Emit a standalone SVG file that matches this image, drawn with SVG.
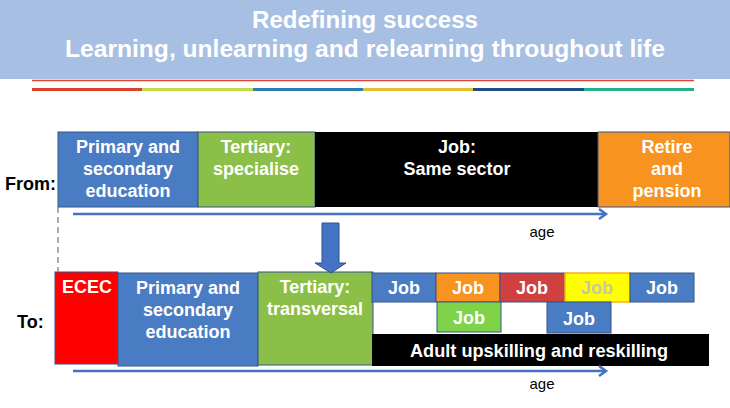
<svg xmlns="http://www.w3.org/2000/svg" width="730" height="408" viewBox="0 0 730 408">
<defs>
<style>
.t{font-family:"Liberation Sans",Arial,sans-serif;font-weight:bold;fill:#fff;text-anchor:middle}
.b{font-size:18px}
.j{font-size:18px}
.lab{font-family:"Liberation Sans",Arial,sans-serif;font-weight:bold;font-size:18px;fill:#000}
.age{font-family:"Liberation Sans",Arial,sans-serif;font-size:15px;fill:#000;text-anchor:middle}
.bx{stroke:#35558a;stroke-width:1}
.ax{stroke:#4472c4;stroke-width:2.5;fill:none}
</style>
<marker id="ah" markerWidth="12" markerHeight="12" refX="9" refY="6" orient="auto" markerUnits="userSpaceOnUse">
<path d="M2,1 L9,6 L2,11" fill="none" stroke="#4472c4" stroke-width="2.5"/>
</marker>
</defs>
<rect x="0" y="0" width="730" height="79" fill="#a7bfe3"/>
<text class="t" x="365" y="28" font-size="23" textLength="226" lengthAdjust="spacingAndGlyphs">Redefining success</text>
<text class="t" x="365" y="57" font-size="23" textLength="600" lengthAdjust="spacingAndGlyphs">Learning, unlearning and relearning throughout life</text>
<line x1="32" y1="80.5" x2="694" y2="80.5" stroke="#e8402a" stroke-width="1.5"/>
<g stroke-width="3">
<line x1="32" y1="89.5" x2="142" y2="89.5" stroke="#d9412a"/>
<line x1="142" y1="89.5" x2="253" y2="89.5" stroke="#c3da4a"/>
<line x1="253" y1="89.5" x2="363" y2="89.5" stroke="#2a7fb0"/>
<line x1="363" y1="89.5" x2="473" y2="89.5" stroke="#e8be2e"/>
<line x1="473" y1="89.5" x2="584" y2="89.5" stroke="#1f4e7e"/>
<line x1="584" y1="89.5" x2="694" y2="89.5" stroke="#22b08a"/>
</g>

<text class="lab" x="5" y="190">From:</text>
<text class="lab" x="17" y="328">To:</text>

<g id="from-primary"><rect class="bx" x="58" y="132" width="140" height="75" fill="#4a7cc4"/>
<text class="t b" x="128" y="153">Primary and</text><text class="t b" x="128" y="175">secondary</text><text class="t b" x="128" y="197">education</text></g>
<g id="from-tertiary"><rect class="bx" x="198" y="132" width="117" height="75" fill="#8cbf48"/>
<text class="t b" x="256" y="153">Tertiary:</text><text class="t b" x="256" y="175">specialise</text></g>
<g id="from-job"><rect x="315" y="132" width="283" height="75" fill="#000"/>
<text class="t b" x="457" y="153">Job:</text><text class="t b" x="457" y="175">Same sector</text></g>
<g id="from-retire"><rect class="bx" x="598" y="132" width="132" height="75" fill="#f7931e"/>
<text class="t b" x="667" y="153">Retire</text><text class="t b" x="667" y="175">and</text><text class="t b" x="667" y="197">pension</text></g>

<g id="to-ecec"><rect class="bx" x="55" y="272" width="63" height="92" fill="#ff0000"/>
<text class="t b" x="87" y="293">ECEC</text></g>
<g id="to-primary"><rect class="bx" x="118" y="273" width="140" height="93" fill="#4a7cc4"/>
<text class="t b" x="188" y="294">Primary and</text><text class="t b" x="188" y="316">secondary</text><text class="t b" x="188" y="338">education</text></g>
<g id="to-tertiary"><rect class="bx" x="258" y="272" width="115" height="93" fill="#8cbf48"/>
<text class="t b" x="315" y="293">Tertiary:</text><text class="t b" x="315" y="315">transversal</text></g>
<g id="job1"><rect class="bx" x="372" y="273" width="64" height="29" fill="#4a7cc4"/><text class="t j" x="404" y="294">Job</text></g>
<g id="job2"><rect class="bx" x="436" y="273" width="64" height="29" fill="#f7931e"/><text class="t j" x="468" y="294">Job</text></g>
<g id="job3"><rect class="bx" x="500" y="273" width="65" height="29" fill="#d04040"/><text class="t j" x="532" y="294">Job</text></g>
<g id="job4"><rect x="565" y="273" width="65" height="29" fill="#ffff00" stroke="#f7b01e" stroke-width="1.5"/><text class="t j" x="597" y="294" style="fill:#c9c6a0">Job</text></g>
<g id="job5"><rect class="bx" x="630" y="273" width="64" height="29" fill="#4a7cc4"/><text class="t j" x="662" y="294">Job</text></g>
<g id="job6"><rect class="bx" x="437" y="302" width="64" height="30" fill="#7ed348"/><text class="t j" x="469" y="324">Job</text></g>
<g id="job7"><rect class="bx" x="547" y="302" width="64" height="31" fill="#4a7cc4"/><text class="t j" x="579" y="325">Job</text></g>
<g id="adult"><rect x="372" y="334" width="337" height="32" fill="#000"/>
<text class="t" x="539" y="357" font-size="18" textLength="258" lengthAdjust="spacingAndGlyphs">Adult upskilling and reskilling</text></g>

<g id="connectors">
<line x1="58" y1="207" x2="58" y2="272" stroke="#808080" stroke-width="1.3" stroke-dasharray="6,4"/>
<line class="ax" x1="73" y1="214" x2="606" y2="214" marker-end="url(#ah)"/>
<line class="ax" x1="73" y1="371" x2="606" y2="371" marker-end="url(#ah)"/>
<path d="M322,223 H339 V263 H346 L331,273 L315,263 H322 Z" fill="#4472c4" stroke="#2f528f" stroke-width="1"/>
</g>
<text class="age" x="542" y="237">age</text>
<text class="age" x="542" y="389">age</text>
</svg>
